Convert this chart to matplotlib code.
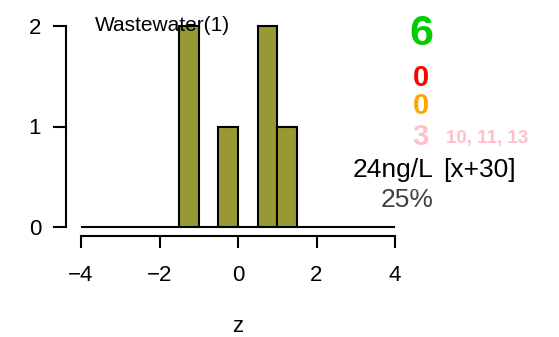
import matplotlib
matplotlib.use("Agg")
import matplotlib.pyplot as plt
import numpy as np

plt.rcParams['font.family'] = ['Liberation Sans', 'DejaVu Sans']

# histogram of z, bins of width 0.5 from -4 to 4
bin_edges = [-4.0, -3.5, -3.0, -2.5, -2.0, -1.5, -1.0, -0.5, 0.0,
             0.5, 1.0, 1.5, 2.0, 2.5, 3.0, 3.5, 4.0]
counts = [0, 0, 0, 0, 0, 2, 0, 1, 0, 2, 1, 0, 0, 0, 0, 0]

x_ticks = [-4, -2, 0, 2, 4]
y_ticks = [0, 1, 2]
x_tick_labels = ['\u22124', '\u22122', '0', '2', '4']

title = "Wastewater(1)"
n_total = "6"
n_red = "0"
n_orange = "0"
n_pink = "3"
pink_ids = "10, 11, 13"
conc = "24ng/L"
conc_note = "[x+30]"
pct = "25%"

W, H = 559, 337
fig = plt.figure(figsize=(W / 100, H / 100), dpi=100)
ax = fig.add_axes([81 / W, 1 - 227 / H, 314 / W, 201 / H])

widths = np.diff(bin_edges)
ax.bar(bin_edges[:-1], counts, width=widths, align='edge',
       color='#999933', edgecolor='black', linewidth=1.5, clip_on=False)

ax.set_xlim(bin_edges[0], bin_edges[-1])
ax.set_ylim(0, 2)
ax.spines['top'].set_visible(False)
ax.spines['right'].set_visible(False)
ax.spines['left'].set_position(('outward', 10.8))
ax.spines['bottom'].set_position(('outward', 6.5))
ax.spines['left'].set_bounds(0, 2)
ax.spines['bottom'].set_bounds(-4, 4)
for s in ['left', 'bottom']:
    ax.spines[s].set_linewidth(1.5)
ax.set_xticks(x_ticks)
ax.set_xticklabels(x_tick_labels)
ax.set_yticks(y_ticks)
ax.tick_params(axis='both', labelsize=16, width=1.5)
ax.tick_params(axis='x', length=8.6, pad=12.5)
ax.tick_params(axis='y', length=9.4, pad=8.5)
ax.set_xlabel('z', fontsize=16, labelpad=21)

def px(x, y):
    return x / W, 1 - y / H

fig.text(*px(95, 31), title, fontsize=15, ha='left', va='baseline')

fig.text(*px(433, 45), n_total, fontsize=31, fontweight='bold', color='#00CD00',
         ha='right', va='baseline')
fig.text(*px(429, 86), n_red, fontsize=21, fontweight='bold', color='#FF0000',
         ha='right', va='baseline')
fig.text(*px(429, 114), n_orange, fontsize=21, fontweight='bold', color='#FFA500',
         ha='right', va='baseline')
fig.text(*px(429, 145), n_pink, fontsize=21, fontweight='bold', color='#FFC0CB',
         ha='right', va='baseline')
fig.text(*px(446, 143), pink_ids, fontsize=13.5, fontweight='bold', color='#FFC0CB',
         ha='left', va='baseline')
fig.text(*px(433, 177), conc, fontsize=19, color='black', ha='right', va='baseline')
fig.text(*px(443, 177), conc_note, fontsize=19, color='black', ha='left', va='baseline')
fig.text(*px(433, 207), pct, fontsize=19, color='#404040', ha='right', va='baseline')

fig.savefig('out.png', dpi=100)
